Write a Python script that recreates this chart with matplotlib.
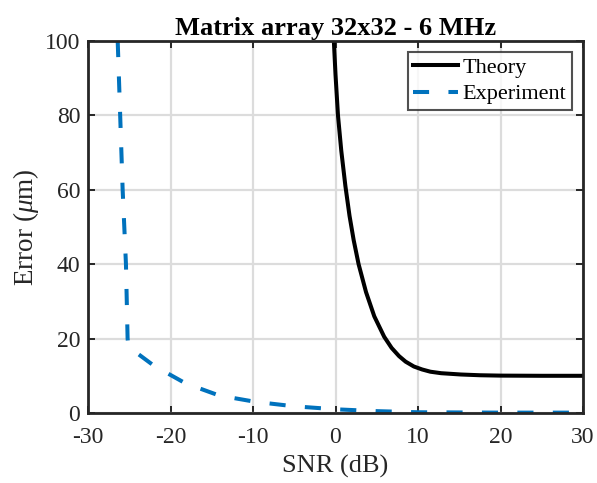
import matplotlib
matplotlib.use("Agg")
import matplotlib.pyplot as plt

theory_snr = [-0.2, 0.0, 0.3, 0.7, 1.2, 1.7, 2.2, 2.8, 3.7, 4.7, 5.9, 6.8, 7.7, 8.5, 9.5, 10.5, 11.5, 12.8, 15.2, 17.5, 20.0, 25.0, 30.0]
theory_err = [100, 91, 80, 70.5, 61, 53, 46.5, 40, 32.5, 26, 20.5, 17.5, 15.3, 13.8, 12.5, 11.7, 11.1, 10.7, 10.35, 10.15, 10.05, 10.0, 10.0]

exp_snr = [-26.4, -26.1, -25.8, -25.4, -25.2, -25.1, -22.0, -18.2, -14.1, -9.7, -5.0, 0.0, 5.0, 10.0, 20.0, 30.0]
exp_err = [100, 80, 60, 40, 20, 17.8, 12.7, 8.0, 4.7, 3.0, 1.8, 1.0, 0.5, 0.2, 0.1, 0.1]

xticks = [-30, -20, -10, 0, 10, 20, 30]
yticks = [0, 20, 40, 60, 80, 100]

plt.rcParams['font.family'] = ['Liberation Serif', 'DejaVu Serif']
plt.rcParams['mathtext.fontset'] = 'custom'
plt.rcParams['mathtext.rm'] = 'Liberation Serif'
plt.rcParams['mathtext.it'] = 'Liberation Serif:italic'

fig = plt.figure(figsize=(5.97, 4.83), dpi=100)
ax = fig.add_axes([88/597, 1-413/483, (583-88)/597, (413-41)/483])

ax.plot(theory_snr, theory_err, color='black', lw=2.9, label='Theory',
        solid_joinstyle='round')
ax.plot(exp_snr, exp_err, color='#0072BD', lw=2.9, ls=(0, (4.0, 4.8)), label='Experiment')

ax.set_xlim(-30, 30)
ax.set_ylim(0, 100)
ax.set_xticks(xticks)
ax.set_yticks(yticks)
ax.set_xticklabels([str(t) for t in xticks])
ax.grid(True, color='#dcdcdc', lw=1.6)
ax.set_axisbelow(True)
ax.tick_params(direction='in', top=True, right=True, labelsize=17, length=5, width=1.4,
               colors='#262626', labelcolor='#262626')
ax.tick_params(axis='x', pad=10)
ax.tick_params(axis='y', pad=5.5)
for s in ax.spines.values():
    s.set_linewidth(2)
    s.set_color('#262626')

ax.set_xlabel('SNR (dB)', fontsize=19, color='#262626', labelpad=5)
ax.set_ylabel(r'Error ($\mu$m)', fontsize=19.5, color='#262626', labelpad=3)
ax.set_title('Matrix array 32x32 - 6 MHz', fontsize=19, fontweight='bold', pad=4)

leg = ax.legend(loc='upper right', fontsize=16, frameon=True, fancybox=False,
                edgecolor='#262626', handlelength=2.0, borderpad=0.25, labelspacing=0.25,
                handletextpad=0.22, borderaxespad=0.5)
leg.get_frame().set_linewidth(1.5)

fig.savefig('out.png', dpi=100)
